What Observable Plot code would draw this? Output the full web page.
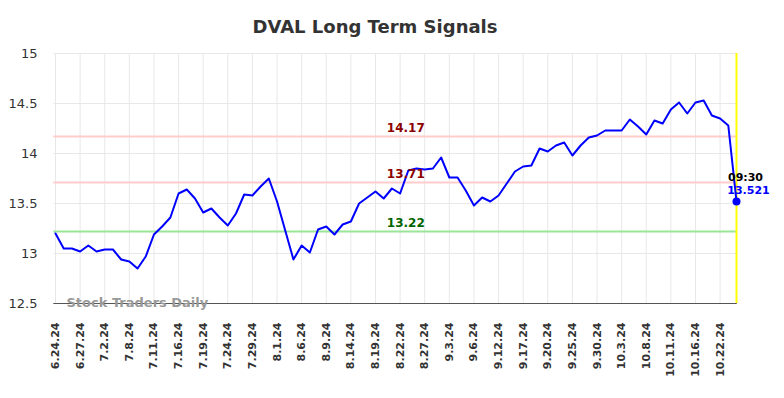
<!DOCTYPE html>
<html>
<head>
<meta charset="utf-8">
<script src="https://cdn.jsdelivr.net/npm/d3@7"></script>
<script src="https://cdn.jsdelivr.net/npm/@observablehq/plot@0.6"></script>
<style>
  body { margin: 0; background: #fff; font-family: "DejaVu Sans", sans-serif; }
  #title { width: 750px; height: 40px; box-sizing: border-box; padding-top: 18px; line-height: 18px;
           font-size: 18px; font-weight: bold; color: #333; text-align: center; }
  #chart svg { display: block; }
</style>
</head>
<body>
<div id="title">DVAL Long Term Signals</div>
<div id="chart"></div>
<script>
const prices = [
  13.20, 13.05, 13.05, 13.02, 13.08, 13.02, 13.04, 13.04, 12.94, 12.92,
  12.85, 12.97, 13.19, 13.27, 13.36, 13.60, 13.64, 13.55, 13.41, 13.45,
  13.36, 13.28, 13.40, 13.59, 13.58, 13.67, 13.75, 13.52, 13.23, 12.94,
  13.08, 13.01, 13.24, 13.27, 13.19, 13.29, 13.32, 13.50, 13.56, 13.62,
  13.55, 13.65, 13.60, 13.83, 13.85, 13.84, 13.85, 13.96, 13.76, 13.76,
  13.63, 13.48, 13.56, 13.52, 13.58, 13.70, 13.82, 13.87, 13.88, 14.05,
  14.02, 14.08, 14.11, 13.98, 14.08, 14.16, 14.18, 14.23, 14.23, 14.23,
  14.34, 14.27, 14.19, 14.33, 14.30, 14.44, 14.51, 14.40, 14.51, 14.53,
  14.38, 14.35, 14.28, 13.521
];
const tickLabels = [
  "6.24.24", "6.27.24", "7.2.24", "7.8.24", "7.11.24", "7.16.24", "7.19.24",
  "7.24.24", "7.29.24", "8.1.24", "8.6.24", "8.9.24", "8.14.24", "8.19.24",
  "8.22.24", "8.27.24", "9.3.24", "9.6.24", "9.12.24", "9.17.24", "9.20.24",
  "9.25.24", "9.30.24", "10.3.24", "10.8.24", "10.11.24", "10.16.24", "10.22.24"
];
const levelValues = [14.17, 13.71, 13.22];
const levelLineColors = ["#ffcccc", "#ffcccc", "#99e699"];
const levelTextColors = ["#8b0000", "#8b0000", "#006400"];
const levelLabelIndex = 42.7;
const lastTime = "09:30";
const watermark = "Stock Traders Daily";

const series = prices.map((v, i) => ({i, v}));
const n = prices.length;
const last = series[n - 1];
const tickIdx = tickLabels.map((_, k) => k * 3);
const levels = levelValues.map((v, k) => ({v, line: levelLineColors[k], text: levelTextColors[k]}));

const chart = Plot.plot({
  width: 784,
  height: 358,
  marginLeft: 55,
  marginRight: 48,
  marginTop: 13,
  marginBottom: 95,
  style: {fontFamily: "DejaVu Sans, sans-serif", background: "#fff", overflow: "visible"},
  x: {type: "linear", domain: [0, n - 1]},
  y: {domain: [12.5, 15]},
  marks: [
    Plot.gridY([12.5, 13, 13.5, 14, 14.5, 15], {stroke: "#e8e8e8", strokeOpacity: 1, x1: -0.2, x2: n - 0.9}),
    Plot.gridX(tickIdx, {stroke: "#e8e8e8", strokeOpacity: 1}),
    Plot.ruleY(levels, {y: "v", stroke: "line", strokeWidth: 2, x1: -0.2, x2: n - 0.9}),
    Plot.ruleX([last], {x: "i", stroke: "#ffff00", strokeWidth: 2, y1: 12.5, y2: 15}),
    Plot.ruleY([12.5], {stroke: "#555", strokeWidth: 1, x1: -0.2, x2: n - 0.9}),
    Plot.text([watermark], {x: 0, y: 12.5, text: d => d, textAnchor: "start", dx: 11, dy: -1,
      fill: "#999", fontWeight: "bold", fontSize: 13}),
    Plot.line(series, {x: "i", y: "v", stroke: "#0000ff", strokeWidth: 2}),
    Plot.dot([last], {x: "i", y: "v", r: 4, fill: "#0000ff"}),
    Plot.text(levels, {x: () => levelLabelIndex, y: "v", text: d => d.v.toFixed(2), fill: "text",
      fontWeight: "bold", fontSize: 12, dy: -8}),
    Plot.text([last], {x: "i", y: "v", text: () => lastTime, fill: "#000", fontWeight: "bold",
      fontSize: 11, dx: 9, dy: -24}),
    Plot.text([last], {x: "i", y: "v", text: d => d.v.toFixed(3), fill: "#0000ff", fontWeight: "bold",
      fontSize: 11, dx: 12, dy: -11}),
    Plot.axisY([12.5, 13, 13.5, 14, 14.5, 15], {tickSize: 0, tickPadding: 18, fontSize: 13, fill: "#333",
      tickFormat: d => String(d), label: null}),
    Plot.axisX(tickIdx, {tickSize: 0, tickPadding: 19, tickRotate: -90, fontSize: 11, fontWeight: "bold",
      fill: "#333", tickFormat: i => tickLabels[i / 3], label: null})
  ]
});
document.getElementById("chart").appendChild(chart);
</script>
</body>
</html>
